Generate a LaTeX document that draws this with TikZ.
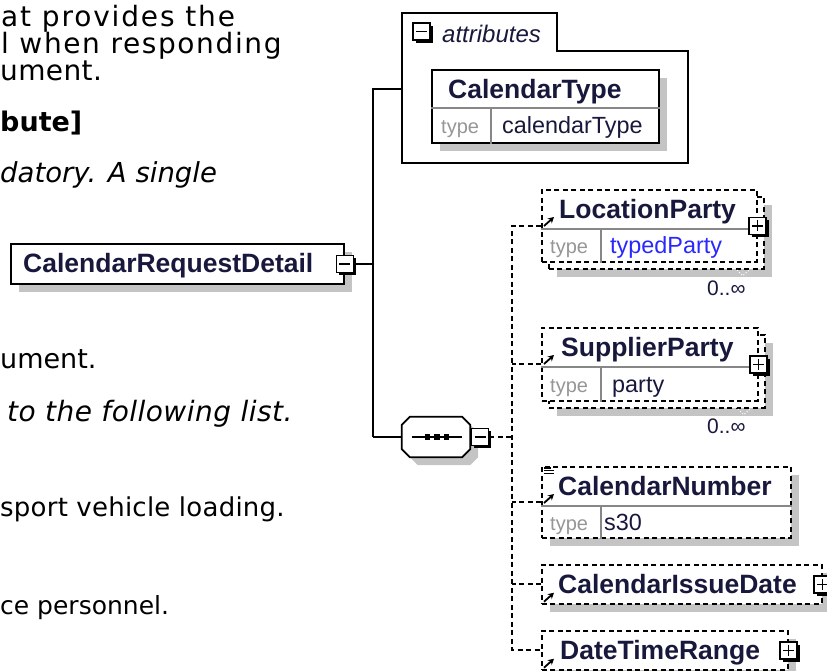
\documentclass[tikz,border=0pt]{standalone}
\usepackage{fontspec}
\setmainfont{Liberation Sans}
\newfontfamily\bodyf{DejaVu Sans}[ItalicFont={DejaVu Sans Oblique},BoldFont={DejaVu Sans Bold}]
\usetikzlibrary{shadows,arrows.meta,calc}
\definecolor{elname}{RGB}{24,24,60}
\definecolor{shd}{RGB}{196,196,196}
\definecolor{typegray}{RGB}{150,150,150}
\definecolor{divgray}{RGB}{135,135,135}
\definecolor{tblue}{RGB}{40,40,255}
\newcommand\btxt[3]{\bodyf\fontsize{#1}{30}\selectfont\addfontfeature{LetterSpace=#2}#3}
\newcommand\btxti[3]{\bodyf\itshape\fontsize{#1}{30}\selectfont\addfontfeature{LetterSpace=#2}#3}
\newcommand\btxtb[3]{\bodyf\bfseries\fontsize{#1}{30}\selectfont\addfontfeature{LetterSpace=#2}#3}
\tikzset{
  body/.style={anchor=base west, inner sep=0pt, text=black},
  conn/.style={line width=2pt},
  dconn/.style={line width=1.8pt, dash pattern=on 5pt off 3.5pt},
  shadowed/.style={drop shadow={shadow xshift=8pt, shadow yshift=-8pt, fill=shd, opacity=1}},
  sbox/.style={draw, line width=1.8pt, fill=white, anchor=north west, inner sep=0pt, shadowed},
  ofront/.style={draw, line width=1.7pt, dash pattern=on 5pt off 3.5pt, fill=white, anchor=north west, inner sep=0pt},
  obox/.style={ofront, shadowed},
  div/.style={draw=divgray, line width=1.2pt},
  icon/.style={draw, line width=1.5pt, fill=white, minimum width=17pt, minimum height=17pt, inner sep=0pt,
    drop shadow={shadow xshift=2.8pt, shadow yshift=-2.8pt, fill=black, opacity=1}},
  minusicon/.style={icon, path picture={\draw[line width=1.5pt] ([xshift=3pt]path picture bounding box.west) -- ([xshift=-3pt]path picture bounding box.east);}},
  plusicon/.style={icon, path picture={\draw[line width=1.5pt] ([xshift=3pt]path picture bounding box.west) -- ([xshift=-3pt]path picture bounding box.east) ([yshift=-3pt]path picture bounding box.north) -- ([yshift=3pt]path picture bounding box.south);}},
  ename/.style={font=\bfseries\fontsize{26.5}{30}\selectfont, text=elname, anchor=base west, inner sep=0pt},
  tlabel/.style={font=\fontsize{20}{24}\selectfont, text=typegray, anchor=base west, inner sep=0pt},
  tval/.style={font=\fontsize{23.4}{27}\selectfont, text=elname, anchor=base west, inner sep=0pt},
  mult/.style={font=\fontsize{21}{24}\selectfont, text=elname, anchor=base west, inner sep=0pt},
  refarrow/.style={line width=1.8pt, -{Stealth[length=6pt,width=6.5pt]}},
  seqarea/.style={minimum width=68pt, minimum height=40pt, inner sep=0pt},
}
\begin{document}
\begin{tikzpicture}[x=1pt,y=-1pt]
\useasboundingbox (0,0) rectangle (827,670);
% ---------- left text ----------
\node[body] (t1) at (1,26)  {\btxt{28}{6.6}{at provides the}};
\node[body] (t2) at (1,53)  {\btxt{28}{5.8}{l when responding}};
\node[body] (t3) at (0,80)  {\btxt{28}{1.4}{ument.}};
\node[body] (t4) at (0,131) {\btxtb{27}{0}{bute]}};
\node[body] (t5) at (0,182) {\btxti{27.5}{0}{datory. A single}};
\node[body] (t6) at (0,368) {\btxt{27}{0}{ument.}};
\node[body] (t7) at (7,421) {\btxti{28}{1.7}{to the following list.}};
\node[body] (t8) at (0,516) {\btxt{26}{0.9}{sport vehicle loading.}};
\node[body] (t9) at (0,614) {\btxt{25}{0}{ce personnel.}};
% ---------- root element ----------
\node[sbox, minimum width=333pt, minimum height=40pt] (crd) at (10,243) {};
\node[ename] (crdn) at (23,272) {CalendarRequestDetail};
\node[minusicon] (crdi) at (crd.east) {};
% ---------- attributes ----------
\draw[line width=1.8pt] (402,13) -- (557,13) -- (557,51) -- (688,51) -- (688,163) -- (402,163) -- cycle;
\coordinate (attrw) at (402,89);
\node[minusicon] (attri) at (421.5,31.5) {};
\node[font=\itshape\fontsize{24}{28}\selectfont, text=elname, anchor=base west, inner sep=0pt] (attrn) at (442,42) {attributes};
\node[sbox, minimum width=227pt, minimum height=73pt] (ctype) at (431,69) {};
\draw[div] ($(ctype.north west)+(0,39)$) -- ($(ctype.north east)+(0,39)$);
\draw[div] ($(ctype.north west)+(60,39)$) -- ($(ctype.south west)+(60,0)$);
\node[ename] (ctypen) at (448,98) {CalendarType};
\node[tlabel] (ctypet) at (441,133) {type};
\node[tval] (ctypev) at (502,133) {calendarType};
% ---------- main connectors ----------
\coordinate (jt) at (373,89);
\coordinate (jb) at (373,437);
\coordinate (vx) at (512,0);
\draw[conn] (crdi.east) -- (crdi.east -| jt);
\draw[conn] (attrw) -- (jt) -- (jb);
% ---------- sequence compositor ----------
\node[seqarea] (seq) at (436,437) {};
\draw[line width=1.7pt, fill=white, shadowed]
  ($(seq.north west)+(8,0)$) -- ($(seq.north east)+(-8,0)$) -- ($(seq.north east)+(0,8)$)
  -- ($(seq.south east)+(0,-8)$) -- ($(seq.south east)+(-8,0)$) -- ($(seq.south west)+(8,0)$)
  -- ($(seq.south west)+(0,-8)$) -- ($(seq.north west)+(0,8)$) -- cycle;
\draw[conn] (jb) -- (seq.west);
\draw[line width=1.5pt] ($(seq.west)+(10,0)$) -- ($(seq.east)+(-8,0)$);
\foreach \sx in {427.5,437,446.5} \fill (\sx-2.8,434.2) rectangle (\sx+2.8,439.8);
\node[minusicon] (seqi) at (480,437) {};
% ---------- children ----------
% LocationParty (repeated)
\node[obox, minimum width=215pt, minimum height=72pt] (locb) at (548,196) {};
\node[ofront, minimum width=215pt, minimum height=72pt] (loc) at (541,189) {};
\draw[div] ($(loc.north west)+(0,40)$) -- ($(loc.north east)+(0,40)$);
\draw[div] ($(loc.north west)+(60,40)$) -- ($(loc.south west)+(60,0)$);
\node[ename] (locn) at (559,218.5) {LocationParty};
\node[tlabel] (loct) at (550,253) {type};
\node[tval, text=tblue] (locv) at (610,253) {typedParty};
\draw[refarrow] ($(loc.north west)+(3,37)$) -- ++(10,-9);
\node[plusicon] (loci) at (loc.east) {};
\draw[white, line width=1pt, dotted] ($(loc.south east)+(-27,1)$) -- ($(loc.south east)+(-15,13)$) -- ($(loc.south east)+(-8,7)$);
\node[mult] (locm) at (707,295) {0..∞};
% SupplierParty (repeated)
\node[obox, minimum width=216pt, minimum height=73pt] (supb) at (548,334) {};
\node[ofront, minimum width=216pt, minimum height=73pt] (sup) at (541,327) {};
\draw[div] ($(sup.north west)+(0,40)$) -- ($(sup.north east)+(0,40)$);
\draw[div] ($(sup.north west)+(60,40)$) -- ($(sup.south west)+(60,0)$);
\node[ename] (supn) at (561,356.5) {SupplierParty};
\node[tlabel] (supt) at (550,392) {type};
\node[tval] (supv) at (612,392) {party};
\draw[refarrow] ($(sup.north west)+(3,37)$) -- ++(10,-9);
\node[plusicon] (supi) at (sup.east) {};
\draw[white, line width=1pt, dotted] ($(sup.south east)+(-27,1)$) -- ($(sup.south east)+(-15,13)$) -- ($(sup.south east)+(-8,7)$);
\node[mult] (supm) at (707,433) {0..∞};
% CalendarNumber
\node[obox, minimum width=249pt, minimum height=71pt] (cnum) at (541,466) {};
\draw[div] ($(cnum.north west)+(0,40)$) -- ($(cnum.north east)+(0,40)$);
\draw[div] ($(cnum.north west)+(60,40)$) -- ($(cnum.south west)+(60,0)$);
\node[ename] (cnumn) at (558,495.5) {CalendarNumber};
\node[tlabel] (cnumt) at (550,530) {type};
\node[tval] (cnumv) at (604,530) {s30};
\draw[refarrow] ($(cnum.north west)+(3,37)$) -- ++(10,-9);
\draw[line width=1.1pt] (544,468) -- (551,468) (544,470.8) -- (554,470.8) (544,473.6) -- (554,473.6);
% CalendarIssueDate
\node[obox, minimum width=280pt, minimum height=39pt] (cid) at (541,564) {};
\node[ename] (cidn) at (558,593) {CalendarIssueDate};
\draw[refarrow] ($(cid.south west)+(3,-3)$) -- ++(10,-9);
\node[plusicon] (cidi) at (cid.east) {};
% DateTimeRange
\node[obox, minimum width=246pt, minimum height=39pt] (dtr) at (541,630) {};
\node[ename] (dtrn) at (560,659) {DateTimeRange};
\draw[refarrow] ($(dtr.south west)+(3,-3)$) -- ++(10,-9);
\node[plusicon] (dtri) at (dtr.east) {};
% ---------- dashed connectors ----------
\draw[dconn] (seqi.east) -- (seqi.east -| vx);
\draw[dconn] (loc.west) -- (loc.west -| vx) |- (dtr.west);
\draw[dconn] (sup.west) -- (sup.west -| vx);
\draw[dconn] (cnum.west) -- (cnum.west -| vx);
\draw[dconn] (cid.west) -- (cid.west -| vx);
\end{tikzpicture}
\end{document}
